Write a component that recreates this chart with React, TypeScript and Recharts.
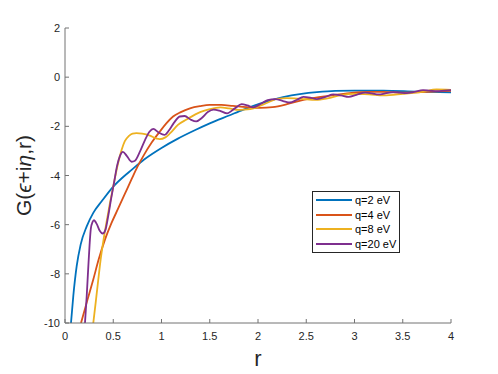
import { LineChart, Line, XAxis, YAxis, Legend } from "recharts";

// q = 2 eV
const rQ2 = [0.062, 0.086, 0.121, 0.162, 0.225, 0.293, 0.38, 0.5, 0.6, 0.69, 0.82, 1.0, 1.17, 1.35, 1.5, 1.7, 1.85, 2.02, 2.26, 2.45, 2.61, 2.8, 3.0, 3.3, 3.64, 4.0];
const gQ2 = [-10, -8.9, -7.69, -6.81, -6.07, -5.52, -5.05, -4.45, -4.07, -3.77, -3.35, -2.88, -2.5, -2.15, -1.88, -1.56, -1.32, -1.08, -0.81, -0.68, -0.61, -0.56, -0.55, -0.55, -0.59, -0.62];

// q = 4 eV
const rQ4 = [0.166, 0.23, 0.293, 0.35, 0.415, 0.48, 0.55, 0.62, 0.69, 0.75, 0.82, 0.9, 0.985, 1.05, 1.12, 1.2, 1.295, 1.4, 1.5, 1.62, 1.74, 1.88, 2.02, 2.15, 2.3, 2.44, 2.6, 2.78, 2.95, 3.14, 3.3, 3.5, 3.75, 4.0];
const gQ4 = [-10, -9.1, -8.23, -7.4, -6.6, -5.95, -5.35, -4.75, -4.15, -3.65, -3.15, -2.65, -2.2, -1.88, -1.6, -1.42, -1.27, -1.18, -1.13, -1.13, -1.17, -1.22, -1.25, -1.22, -1.1, -0.95, -0.83, -0.73, -0.65, -0.6, -0.6, -0.63, -0.6, -0.56];

// q = 8 eV
const rQ8 = [0.293, 0.32, 0.345, 0.37, 0.4, 0.435, 0.466, 0.495, 0.52, 0.55, 0.587, 0.62, 0.66, 0.7, 0.74, 0.8, 0.88, 0.95, 0.98, 1.04, 1.09, 1.17, 1.26, 1.4, 1.5, 1.61, 1.7, 1.8, 1.92, 2.03, 2.12, 2.2, 2.3, 2.45, 2.6, 2.72, 2.85, 3.0, 3.15, 3.3, 3.5, 3.7, 3.85, 4.0];
const gQ8 = [-10, -9.1, -8.23, -7.4, -6.6, -5.8, -5.12, -4.55, -4.05, -3.5, -2.95, -2.6, -2.4, -2.3, -2.28, -2.3, -2.38, -2.5, -2.52, -2.45, -2.28, -1.94, -1.72, -1.42, -1.3, -1.23, -1.27, -1.33, -1.3, -1.15, -1.0, -0.88, -0.85, -0.88, -0.92, -0.86, -0.74, -0.68, -0.7, -0.74, -0.68, -0.6, -0.5, -0.52];

// q = 20 eV
const rQ20 = [0.207, 0.225, 0.24, 0.255, 0.268, 0.285, 0.3, 0.33, 0.36, 0.39, 0.42, 0.45, 0.48, 0.51, 0.54, 0.57, 0.6, 0.64, 0.69, 0.725, 0.78, 0.83, 0.875, 0.915, 0.97, 1.03, 1.08, 1.13, 1.19, 1.24, 1.3, 1.36, 1.42, 1.48, 1.54, 1.6, 1.68, 1.76, 1.83, 1.89, 1.95, 2.03, 2.1, 2.18, 2.26, 2.33, 2.4, 2.47, 2.54, 2.61, 2.7, 2.78, 2.86, 2.94, 3.02, 3.11, 3.18, 3.25, 3.32, 3.4, 3.47, 3.54, 3.62, 3.71, 3.78, 3.86, 3.93, 4.0];
const gQ20 = [-10, -8.9, -7.82, -6.8, -6.15, -5.9, -5.82, -5.98, -6.25, -6.36, -6.2, -5.6, -4.9, -4.25, -3.6, -3.2, -3.04, -3.2, -3.44, -3.4, -3.0, -2.55, -2.22, -2.1, -2.25, -2.35, -2.15, -1.85, -1.6, -1.58, -1.72, -1.8, -1.65, -1.42, -1.32, -1.36, -1.47, -1.27, -1.1, -1.15, -1.23, -1.08, -0.93, -0.89, -0.97, -1.03, -0.93, -0.8, -0.83, -0.89, -0.8, -0.7, -0.74, -0.8, -0.72, -0.63, -0.66, -0.7, -0.66, -0.61, -0.63, -0.65, -0.6, -0.53, -0.55, -0.57, -0.55, -0.53];

const xTicks = [0, 0.5, 1, 1.5, 2, 2.5, 3, 3.5, 4];
const yTicks = [-10, -8, -6, -4, -2, 0, 2];

const series = [
  { name: "q=2 eV", color: "#0072BD", r: rQ2, g: gQ2 },
  { name: "q=4 eV", color: "#D95319", r: rQ4, g: gQ4 },
  { name: "q=8 eV", color: "#EDB120", r: rQ8, g: gQ8 },
  { name: "q=20 eV", color: "#7E2F8E", r: rQ20, g: gQ20 },
];

const AXIS = "#737373";
const TXT = "#262626";
const FONT = "'Liberation Sans', Arial, sans-serif";
const TICK_LEN = 4;

const zip = (r: number[], g: number[]) => r.map((v, i) => ({ r: v, g: g[i] }));

const BottomTick = ({ x, y, payload }: any) => (
  <g>
    <line x1={x} y1={y} x2={x} y2={y - TICK_LEN} stroke={AXIS} />
    <text x={x} y={y + 17} textAnchor="middle" fill={TXT} fontSize={11} fontFamily={FONT}>
      {payload.value}
    </text>
  </g>
);

const TopTick = ({ x, y }: any) => <line x1={x} y1={y} x2={x} y2={y + TICK_LEN} stroke={AXIS} />;

const LeftTick = ({ x, y, payload }: any) => (
  <g>
    <line x1={x} y1={y} x2={x + TICK_LEN} y2={y} stroke={AXIS} />
    <text x={x - 5} y={y + 4} textAnchor="end" fill={TXT} fontSize={11} fontFamily={FONT}>
      {payload.value}
    </text>
  </g>
);

const RightTick = ({ x, y }: any) => <line x1={x} y1={y} x2={x - TICK_LEN} y2={y} stroke={AXIS} />;

const renderYLabel = ({ viewBox }: any) => {
  const cx = viewBox.x + 31;
  const cy = viewBox.y + viewBox.height / 2;
  return (
    <text
      x={cx}
      y={cy}
      transform={`rotate(-90, ${cx}, ${cy})`}
      textAnchor="middle"
      fill={TXT}
      fontSize={21}
      fontFamily={FONT}
    >
      G(<tspan fontStyle="italic">ϵ</tspan>+i<tspan fontStyle="italic">η</tspan>,r)
    </text>
  );
};

const renderXLabel = ({ viewBox }: any) => (
  <text
    x={viewBox.x + viewBox.width / 2}
    y={viewBox.y + 43}
    textAnchor="middle"
    fill={TXT}
    fontSize={22}
    fontFamily={FONT}
  >
    r
  </text>
);

// keep plotting order in the legend (recharts sorts by name otherwise)
const renderLegend = () => (
  <div
    style={{
      width: 88,
      boxSizing: "border-box",
      border: `1px solid ${TXT}`,
      background: "#fff",
      padding: "1px 0 1px 3px",
      fontFamily: FONT,
      fontSize: 11,
      color: "#000",
    }}
  >
    {series.map((s) => (
      <div key={s.name} style={{ display: "flex", alignItems: "center", height: 14.5 }}>
        <span style={{ display: "inline-block", width: 36, height: 2, background: s.color, marginRight: 3 }} />
        <span>{s.name}</span>
      </div>
    ))}
  </div>
);

export default function App() {
  return (
    <div style={{ position: "absolute", left: 0, top: 0, background: "#fff" }}>
      <LineChart width={498} height={374} margin={{ top: 28, right: 47, bottom: 0, left: 0 }}>
        <XAxis
          dataKey="r"
          type="number"
          domain={[0, 4]}
          ticks={xTicks}
          allowDataOverflow
          height={51}
          tickSize={0}
          tickMargin={0}
          tick={<BottomTick />}
          tickLine={false}
          axisLine={{ stroke: AXIS }}
          label={{ content: renderXLabel }}
        />
        <XAxis
          xAxisId="top"
          orientation="top"
          type="number"
          domain={[0, 4]}
          ticks={xTicks}
          allowDataOverflow
          height={0}
          tickSize={0}
          tickMargin={0}
          tick={<TopTick />}
          tickLine={false}
          axisLine={{ stroke: AXIS }}
        />
        <YAxis
          type="number"
          domain={[-10, 2]}
          ticks={yTicks}
          allowDataOverflow
          width={65}
          tickSize={0}
          tickMargin={0}
          tick={<LeftTick />}
          tickLine={false}
          axisLine={{ stroke: AXIS }}
          label={{ content: renderYLabel }}
        />
        <YAxis
          yAxisId="right"
          orientation="right"
          type="number"
          domain={[-10, 2]}
          ticks={yTicks}
          allowDataOverflow
          width={0}
          tickSize={0}
          tickMargin={0}
          tick={<RightTick />}
          tickLine={false}
          axisLine={{ stroke: AXIS }}
        />
        <Legend
          layout="vertical"
          align="center"
          verticalAlign="middle"
          content={renderLegend}
          wrapperStyle={{ left: 312, top: 191, width: 88 }}
        />
        {series.map((s) => (
          <Line
            key={s.name}
            data={zip(s.r, s.g)}
            dataKey="g"
            name={s.name}
            type="monotone"
            stroke={s.color}
            strokeWidth={1.8}
            dot={false}
            activeDot={false}
            isAnimationActive={false}
          />
        ))}
      </LineChart>
    </div>
  );
}
